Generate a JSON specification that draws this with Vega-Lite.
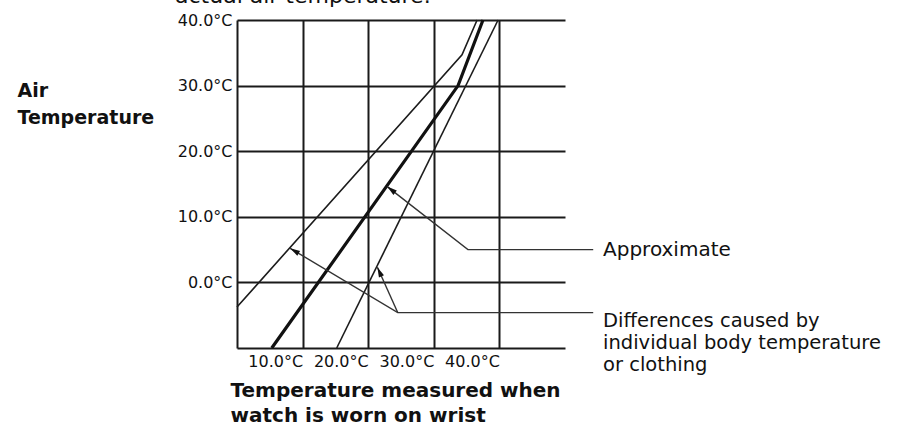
{
  "$schema": "https://vega.github.io/schema/vega-lite/v6.json",
  "width": 328,
  "height": 328,
  "autosize": {"type": "none"},
  "padding": {"left": 237, "top": 20, "right": 341, "bottom": 79},
  "background": "white",
  "config": {
    "font": "DejaVu Sans",
    "view": {"stroke": null}
  },
  "datasets": {
    "curves": [
      {"s": "upper", "x": 0, "y": -3.75},
      {"s": "upper", "x": 34.3, "y": 34.7},
      {"s": "upper", "x": 36.6, "y": 40},
      {"s": "lower", "x": 15.2, "y": -10},
      {"s": "lower", "x": 39.8, "y": 40},
      {"s": "mid", "x": 5.3, "y": -10},
      {"s": "mid", "x": 33.7, "y": 30},
      {"s": "mid", "x": 37.5, "y": 40}
    ],
    "leaders": [
      {"p": "approx", "o": 1, "x": 22.9, "y": 14.6},
      {"p": "approx", "o": 2, "x": 35.2, "y": 5.0},
      {"p": "approx", "o": 3, "x": 54.3, "y": 5.0},
      {"p": "diffL", "o": 1, "x": 8.1, "y": 5.2},
      {"p": "diffL", "o": 2, "x": 24.5, "y": -4.6},
      {"p": "diffL", "o": 3, "x": 54.3, "y": -4.6},
      {"p": "diffR", "o": 1, "x": 21.4, "y": 2.3},
      {"p": "diffR", "o": 2, "x": 24.5, "y": -4.6}
    ],
    "tips": [
      {"p": "approx", "x": 22.9, "y": 14.6},
      {"p": "diffL", "x": 8.1, "y": 5.2},
      {"p": "diffR", "x": 21.4, "y": 2.3}
    ],
    "notes": [
      {"k": "approx", "label": "Approximate", "x": 55.8, "y": 5.0},
      {"k": "diff", "label": "Differences caused by\nindividual body temperature\nor clothing", "x": 55.8, "y": -4.6},
      {"k": "top", "label": "actual air temperature.", "x": -9.45, "y": 42.6}
    ]
  },
  "encoding": {
    "x": {
      "field": "x", "type": "quantitative",
      "scale": {"domain": [0, 50], "nice": false, "zero": false},
      "axis": {
        "values": [10, 20, 30, 40],
        "grid": true, "gridColor": "#1a1a1a", "gridWidth": 2, "gridOpacity": 1,
        "domainColor": "#1a1a1a", "domainWidth": 2,
        "ticks": false,
        "labelExpr": "format(datum.value, '.1f') + '°C'",
        "labelAlign": "right", "labelDx": 3, "labelBaseline": "top",
        "labelPadding": 5, "labelFontSize": 16, "labelColor": "#111",
        "labelFlush": false, "labelOverlap": false,
        "title": ["Temperature measured when", "watch is worn on wrist"],
        "titleFontSize": 20, "titleFontWeight": "bold", "titleColor": "#111",
        "titleAlign": "left", "titleAnchor": "start", "titleBaseline": "alphabetic",
        "titleX": -7, "titleY": 48, "titleLineHeight": 25
      }
    },
    "y": {
      "field": "y", "type": "quantitative",
      "scale": {"domain": [-10, 40], "nice": false, "zero": false},
      "axis": {
        "values": [0, 10, 20, 30, 40],
        "grid": true, "gridColor": "#1a1a1a", "gridWidth": 2, "gridOpacity": 1,
        "domainColor": "#1a1a1a", "domainWidth": 2,
        "ticks": false,
        "labelExpr": "format(datum.value, '.1f') + '°C'",
        "labelPadding": 5, "labelFontSize": 16, "labelColor": "#111",
        "labelFlush": false, "labelOverlap": false,
        "title": ["Air", "Temperature"],
        "titleAngle": 0, "titleFontSize": 19, "titleFontWeight": "bold", "titleColor": "#111",
        "titleAlign": "left", "titleBaseline": "alphabetic",
        "titleX": -220, "titleY": 76, "titleLineHeight": 27
      }
    }
  },
  "layer": [
    {
      "data": {"name": "curves"},
      "transform": [{"filter": "datum.s !== 'mid'"}],
      "mark": {"type": "line", "color": "#1c1c1c", "strokeWidth": 1.6},
      "encoding": {"detail": {"field": "s"}}
    },
    {
      "data": {"name": "curves"},
      "transform": [{"filter": "datum.s === 'mid'"}],
      "mark": {"type": "line", "color": "#111", "strokeWidth": 3.2},
      "encoding": {"detail": {"field": "s"}}
    },
    {
      "data": {"name": "leaders"},
      "mark": {"type": "line", "color": "#333", "strokeWidth": 1.4},
      "encoding": {"detail": {"field": "p"}, "order": {"field": "o"}}
    },
    {
      "data": {"name": "tips"},
      "transform": [{"filter": "datum.p === 'approx'"}],
      "mark": {"type": "point", "shape": "M0,0L-0.55,2L0.55,2Z", "size": 100, "filled": true, "color": "#111", "opacity": 1, "angle": 308}
    },
    {
      "data": {"name": "tips"},
      "transform": [{"filter": "datum.p === 'diffL'"}],
      "mark": {"type": "point", "shape": "M0,0L-0.55,2L0.55,2Z", "size": 100, "filled": true, "color": "#111", "opacity": 1, "angle": 301}
    },
    {
      "data": {"name": "tips"},
      "transform": [{"filter": "datum.p === 'diffR'"}],
      "mark": {"type": "point", "shape": "M0,0L-0.55,2L0.55,2Z", "size": 100, "filled": true, "color": "#111", "opacity": 1, "angle": 336}
    },
    {
      "data": {"name": "notes"},
      "transform": [{"filter": "datum.k === 'approx'"}],
      "mark": {"type": "text", "align": "left", "baseline": "middle", "fontSize": 20, "color": "#111"},
      "encoding": {"text": {"field": "label"}}
    },
    {
      "data": {"name": "notes"},
      "transform": [{"filter": "datum.k === 'diff'"}],
      "mark": {"type": "text", "align": "left", "baseline": "alphabetic", "dy": 14, "fontSize": 19.5, "lineHeight": 22, "lineBreak": "\n", "color": "#111"},
      "encoding": {"text": {"field": "label"}}
    },
    {
      "data": {"name": "notes"},
      "transform": [{"filter": "datum.k === 'top'"}],
      "mark": {"type": "text", "align": "left", "baseline": "alphabetic", "fontSize": 22, "color": "#111"},
      "encoding": {"text": {"field": "label"}}
    }
  ]
}
